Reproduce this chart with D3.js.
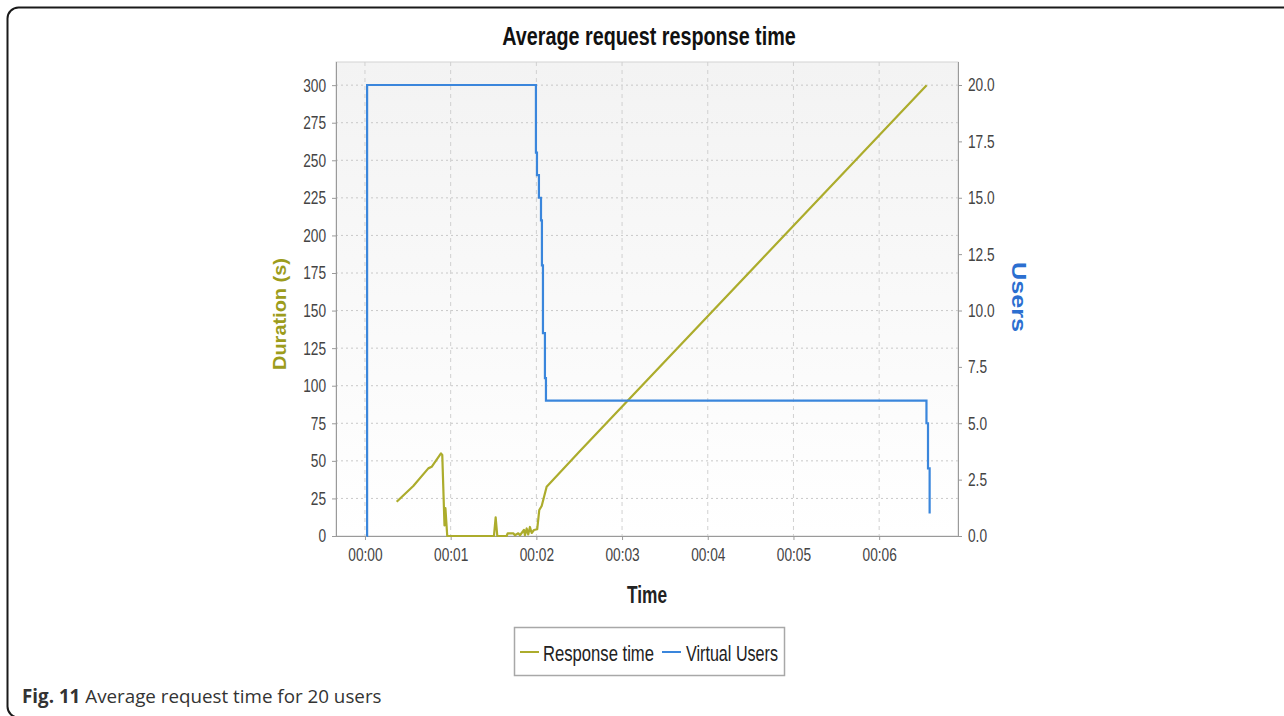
<!DOCTYPE html>
<html lang="en">
<head>
<meta charset="UTF-8">
<title>Average request response time</title>
<script src="https://cdn.jsdelivr.net/npm/d3@7"></script>
<style>
  body { margin: 0; background: #fff; }
  text { font-family: 'Liberation Sans', Arial, sans-serif; }
</style>
</head>
<body>
<div id="chart"></div>
<script>
// Response time (s) by elapsed minutes
var rtTime = [0.37, 0.564, 0.739, 0.778, 0.887, 0.902, 0.928, 0.939, 0.96, 1.505, 1.525, 1.544, 1.653, 1.665, 1.73, 1.75, 1.789, 1.809, 1.855, 1.867, 1.887, 1.905, 1.925, 1.945, 1.972, 2.01, 2.034, 2.062, 2.12, 2.509, 6.554];
var rtValue = [22.8, 33.3, 45, 46, 55, 54, 7, 18.5, 0, 0, 12.4, 0, 0, 1.8, 1.8, 0.5, 1.8, 0.5, 4, 0.5, 5, 1, 6, 2, 4, 4.5, 17.3, 20, 32.8, 56.5, 300];

// Virtual users (step series)
var vuTime = [0.02, 0.025, 1.995, 2.007, 2.03, 2.054, 2.065, 2.077, 2.1, 2.112, 2.13, 6.552, 6.57, 6.589];
var vuValue = [0, 20, 17, 16, 15, 14, 12, 9, 7, 6, 6, 5, 3, 1];

var xTicks = [0, 1, 2, 3, 4, 5, 6];
var leftTicks = [0, 25, 50, 75, 100, 125, 150, 175, 200, 225, 250, 275, 300];
var rightTicks = [0, 2.5, 5, 7.5, 10, 12.5, 15, 17.5, 20];

var W = 1284, H = 716;
var plot = {left: 336, right: 958, top: 62, bottom: 536};
var olive = "#acac2c", blue = "#3a86dc";

// squeeze text horizontally (the original uses a condensed font)
function narrow(sel, k) {
    sel.each(function () {
        var len = this.getComputedTextLength();
        d3.select(this).attr("textLength", len * k).attr("lengthAdjust", "spacingAndGlyphs");
    });
}

var svg = d3.select("#chart").append("svg")
    .attr("width", W).attr("height", H);

// outer frame
svg.append("rect")
    .attr("x", 7.5).attr("y", 7.5)
    .attr("width", 1320).attr("height", 710)
    .attr("rx", 11)
    .attr("fill", "none").attr("stroke", "#1a1a1a").attr("stroke-width", 2);

var x = d3.scaleLinear().domain([-0.338, 6.92]).range([plot.left, plot.right]);
var yL = d3.scaleLinear().domain([0, 315.4]).range([plot.bottom, plot.top]);
var yR = d3.scaleLinear().domain([0, 21.02]).range([plot.bottom, plot.top]);

// plot background
var grad = svg.append("defs").append("linearGradient")
    .attr("id", "bg").attr("x1", 0).attr("y1", 0).attr("x2", 0).attr("y2", 1);
grad.append("stop").attr("offset", "0%").attr("stop-color", "#f3f3f3");
grad.append("stop").attr("offset", "100%").attr("stop-color", "#ffffff");

svg.append("rect")
    .attr("x", plot.left).attr("y", plot.top)
    .attr("width", plot.right - plot.left).attr("height", plot.bottom - plot.top)
    .attr("fill", "url(#bg)")
    .attr("stroke", "#d4d4d4");

// grid
svg.append("g").selectAll("line").data(leftTicks.slice(1)).enter().append("line")
    .attr("x1", plot.left).attr("x2", plot.right)
    .attr("y1", function (d) { return yL(d); }).attr("y2", function (d) { return yL(d); })
    .attr("stroke", "#c8c8c8").attr("stroke-dasharray", "2,3");

svg.append("g").selectAll("line").data(xTicks).enter().append("line")
    .attr("x1", function (d) { return x(d); }).attr("x2", function (d) { return x(d); })
    .attr("y1", plot.top).attr("y2", plot.bottom)
    .attr("stroke", "#d0d0d0").attr("stroke-dasharray", "4,4");

// axes
var fmtTime = function (d) { return "00:0" + d; };

var gx = svg.append("g")
    .attr("transform", "translate(0," + plot.bottom + ")")
    .call(d3.axisBottom(x).tickValues(xTicks).tickFormat(fmtTime).tickSize(4).tickPadding(8));
var gl = svg.append("g")
    .attr("transform", "translate(" + plot.left + ",0)")
    .call(d3.axisLeft(yL).tickValues(leftTicks).tickSize(4).tickPadding(6));
var gr = svg.append("g")
    .attr("transform", "translate(" + plot.right + ",0)")
    .call(d3.axisRight(yR).tickValues(rightTicks).tickFormat(d3.format(".1f")).tickSize(4).tickPadding(6));

[gx, gl, gr].forEach(function (g) {
    g.select(".domain").attr("stroke", "#9a9a9a");
    g.selectAll(".tick line").attr("stroke", "#9a9a9a");
    g.selectAll(".tick text").attr("fill", "#444").style("font-size", "18.5px")
        .style("font-family", "'Liberation Sans', Arial, sans-serif")
        .call(narrow, 0.74);
});
gl.select(".domain").attr("d", "M0.5," + plot.top + "V" + plot.bottom);
gr.select(".domain").attr("d", "M0.5," + plot.top + "V" + plot.bottom);
gx.select(".domain").attr("d", "M" + plot.left + ",0.5H" + plot.right);

// series
var rtData = rtTime.map(function (t, i) { return [t, rtValue[i]]; });
var vuData = vuTime.map(function (t, i) { return [t, vuValue[i]]; });

svg.append("path").datum(rtData)
    .attr("fill", "none").attr("stroke", olive).attr("stroke-width", 2.2)
    .attr("stroke-linejoin", "round")
    .attr("d", d3.line().x(function (d) { return x(d[0]); }).y(function (d) { return yL(d[1]); }));

svg.append("path").datum(vuData)
    .attr("fill", "none").attr("stroke", blue).attr("stroke-width", 2.2)
    .attr("d", d3.line().curve(d3.curveStepAfter)
        .x(function (d) { return x(d[0]); }).y(function (d) { return yR(d[1]); }));

// titles
svg.append("text")
    .attr("x", 649).attr("y", 45).attr("text-anchor", "middle")
    .style("font-size", "25px").style("font-weight", "bold").attr("fill", "#111")
    .text("Average request response time")
    .call(narrow, 0.79);

svg.append("text")
    .attr("x", 647).attr("y", 603).attr("text-anchor", "middle")
    .style("font-size", "24px").style("font-weight", "bold").attr("fill", "#222")
    .text("Time")
    .call(narrow, 0.72);

svg.append("text")
    .attr("transform", "translate(286,314) rotate(-90)").attr("text-anchor", "middle")
    .style("font-size", "19px").style("font-weight", "bold").attr("fill", "#9c9c1c")
    .attr("textLength", 112).attr("lengthAdjust", "spacingAndGlyphs")
    .text("Duration (s)");

svg.append("text")
    .attr("transform", "translate(1012,297) rotate(90)").attr("text-anchor", "middle")
    .style("font-size", "20px").style("font-weight", "bold").attr("fill", "#2c6fd0")
    .attr("textLength", 70).attr("lengthAdjust", "spacingAndGlyphs")
    .text("Users");

// legend
var leg = svg.append("g");
leg.append("rect")
    .attr("x", 514.5).attr("y", 627.5).attr("width", 270).attr("height", 48)
    .attr("fill", "#fff").attr("stroke", "#a8a8a8").attr("stroke-width", 1.5);
var legItems = [
    {name: "Response time", color: olive, lx: 520, tx: 543, len: 111},
    {name: "Virtual Users", color: blue, lx: 662, tx: 686, len: 92}
];
legItems.forEach(function (d) {
    leg.append("line")
        .attr("x1", d.lx).attr("x2", d.lx + 19).attr("y1", 652).attr("y2", 652)
        .attr("stroke", d.color).attr("stroke-width", 2);
    leg.append("text")
        .attr("x", d.tx).attr("y", 661)
        .style("font-size", "22px").attr("fill", "#222")
        .attr("textLength", d.len).attr("lengthAdjust", "spacingAndGlyphs")
        .text(d.name);
});

// caption
var cap = svg.append("text")
    .attr("x", 22).attr("y", 703)
    .style("font-family", "'Open Sans', 'Noto Sans', sans-serif")
    .style("font-size", "18.8px").attr("fill", "#333");
cap.append("tspan").style("font-weight", "bold").text("Fig. 11");
cap.append("tspan").text(" Average request time for 20 users");
</script>
</body>
</html>
